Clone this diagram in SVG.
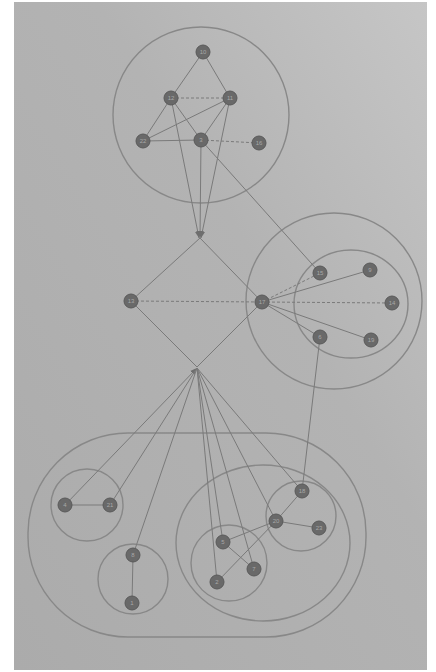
<svg xmlns="http://www.w3.org/2000/svg" width="436" height="672" viewBox="0 0 436 672">
<defs>
<linearGradient id="bg" x1="0" y1="1" x2="1" y2="0">
<stop offset="0" stop-color="#ababab"/>
<stop offset="0.6" stop-color="#b3b3b3"/>
<stop offset="1" stop-color="#c6c6c6"/>
</linearGradient>
<marker id="ah" viewBox="0 0 10 10" refX="10" refY="5" markerWidth="7" markerHeight="7" orient="auto" markerUnits="userSpaceOnUse">
<path d="M0,1 L10,5 L0,9 z" fill="#6e6e6e"/>
</marker>
</defs>
<style>
.e{stroke:#7a7a7a;stroke-width:1;fill:none}
.d{stroke:#7a7a7a;stroke-width:1;fill:none;stroke-dasharray:3 2}
.g{stroke:#888;stroke-width:1.4;fill:none}
.n circle{fill:#696969;stroke:#5a5a5a;stroke-width:1}
.n text{font-family:"Liberation Sans",Arial,sans-serif;font-size:6px;fill:#a8a8a8;text-anchor:middle;dominant-baseline:central}
</style>
<rect width="436" height="672" fill="#fff"/>
<rect x="14" y="2" width="413" height="668" fill="url(#bg)"/>
<g id="groups">
<circle class="g" cx="201" cy="115" r="88"/>
<circle class="g" cx="334" cy="301" r="88"/>
<ellipse class="g" cx="351" cy="304" rx="57" ry="54"/>
<rect class="g" x="28" y="433" width="338" height="204" rx="100" ry="100"/>
<circle class="g" cx="87" cy="505" r="36"/>
<circle class="g" cx="133" cy="579" r="35"/>
<ellipse class="g" cx="263" cy="543" rx="87" ry="78"/>
<circle class="g" cx="301" cy="516" r="35"/>
<circle class="g" cx="229" cy="563" r="38"/>
</g>
<g id="connectors">
<line class="e" x1="203" y1="52" x2="171" y2="98"/>
<line class="e" x1="203" y1="52" x2="230" y2="98"/>
<line class="d" x1="171" y1="98" x2="230" y2="98"/>
<line class="e" x1="171" y1="98" x2="143" y2="141"/>
<line class="e" x1="230" y1="98" x2="143" y2="141"/>
<line class="e" x1="171" y1="98" x2="201" y2="140"/>
<line class="e" x1="230" y1="98" x2="201" y2="140"/>
<line class="e" x1="143" y1="141" x2="201" y2="140"/>
<line class="d" x1="201" y1="140" x2="259" y2="143"/>
<line class="e" x1="201" y1="140" x2="320" y2="273"/>
<line class="e" x1="171" y1="98" x2="199" y2="238" marker-end="url(#ah)"/>
<line class="e" x1="201" y1="140" x2="200" y2="238" marker-end="url(#ah)"/>
<line class="e" x1="230" y1="98" x2="201" y2="238" marker-end="url(#ah)"/>
<line class="e" x1="200" y1="238" x2="131" y2="301"/>
<line class="e" x1="200" y1="238" x2="262" y2="302"/>
<line class="e" x1="131" y1="301" x2="197" y2="367"/>
<line class="e" x1="262" y1="302" x2="197" y2="367"/>
<line class="d" x1="131" y1="301" x2="262" y2="302"/>
<line class="d" x1="262" y1="302" x2="320" y2="273"/>
<line class="e" x1="262" y1="302" x2="370" y2="270"/>
<line class="d" x1="262" y1="302" x2="392" y2="303"/>
<line class="e" x1="262" y1="302" x2="320" y2="337"/>
<line class="e" x1="262" y1="302" x2="371" y2="340"/>
<line class="e" x1="320" y1="337" x2="302" y2="491"/>
<line class="e" x1="65" y1="505" x2="197" y2="368" marker-end="url(#ah)"/>
<line class="e" x1="110" y1="505" x2="197" y2="368"/>
<line class="e" x1="133" y1="555" x2="197" y2="368"/>
<line class="e" x1="223" y1="542" x2="197" y2="368"/>
<line class="e" x1="217" y1="582" x2="197" y2="368"/>
<line class="e" x1="254" y1="569" x2="197" y2="368"/>
<line class="e" x1="276" y1="521" x2="197" y2="368"/>
<line class="e" x1="302" y1="491" x2="197" y2="368"/>
<line class="e" x1="65" y1="505" x2="110" y2="505"/>
<line class="e" x1="133" y1="555" x2="132" y2="603"/>
<line class="e" x1="276" y1="521" x2="302" y2="491"/>
<line class="e" x1="276" y1="521" x2="319" y2="528"/>
<line class="e" x1="276" y1="521" x2="217" y2="582"/>
<line class="e" x1="276" y1="521" x2="223" y2="542"/>
<line class="e" x1="223" y1="542" x2="254" y2="569"/>
</g>
<g id="n10" class="n"><circle cx="203" cy="52" r="7"/><text x="203" y="52">10</text></g>
<g id="n12" class="n"><circle cx="171" cy="98" r="7"/><text x="171" y="98">12</text></g>
<g id="n11" class="n"><circle cx="230" cy="98" r="7"/><text x="230" y="98">11</text></g>
<g id="n22" class="n"><circle cx="143" cy="141" r="7"/><text x="143" y="141">22</text></g>
<g id="n3" class="n"><circle cx="201" cy="140" r="7"/><text x="201" y="140">3</text></g>
<g id="n16" class="n"><circle cx="259" cy="143" r="7"/><text x="259" y="143">16</text></g>
<g id="n13" class="n"><circle cx="131" cy="301" r="7"/><text x="131" y="301">13</text></g>
<g id="n17" class="n"><circle cx="262" cy="302" r="7"/><text x="262" y="302">17</text></g>
<g id="n15" class="n"><circle cx="320" cy="273" r="7"/><text x="320" y="273">15</text></g>
<g id="n9" class="n"><circle cx="370" cy="270" r="7"/><text x="370" y="270">9</text></g>
<g id="n14" class="n"><circle cx="392" cy="303" r="7"/><text x="392" y="303">14</text></g>
<g id="n6" class="n"><circle cx="320" cy="337" r="7"/><text x="320" y="337">6</text></g>
<g id="n19" class="n"><circle cx="371" cy="340" r="7"/><text x="371" y="340">19</text></g>
<g id="n4" class="n"><circle cx="65" cy="505" r="7"/><text x="65" y="505">4</text></g>
<g id="n21" class="n"><circle cx="110" cy="505" r="7"/><text x="110" y="505">21</text></g>
<g id="n8" class="n"><circle cx="133" cy="555" r="7"/><text x="133" y="555">8</text></g>
<g id="n1" class="n"><circle cx="132" cy="603" r="7"/><text x="132" y="603">1</text></g>
<g id="n18" class="n"><circle cx="302" cy="491" r="7"/><text x="302" y="491">18</text></g>
<g id="n20" class="n"><circle cx="276" cy="521" r="7"/><text x="276" y="521">20</text></g>
<g id="n23" class="n"><circle cx="319" cy="528" r="7"/><text x="319" y="528">23</text></g>
<g id="n5" class="n"><circle cx="223" cy="542" r="7"/><text x="223" y="542">5</text></g>
<g id="n7" class="n"><circle cx="254" cy="569" r="7"/><text x="254" y="569">7</text></g>
<g id="n2" class="n"><circle cx="217" cy="582" r="7"/><text x="217" y="582">2</text></g>
</svg>
